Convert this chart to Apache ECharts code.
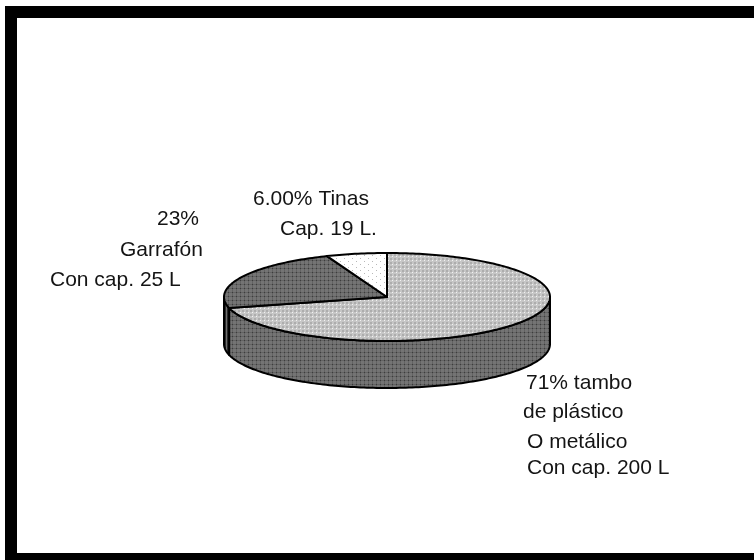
<!DOCTYPE html>
<html>
<head>
<meta charset="utf-8">
<style>html,body{margin:0;padding:0;background:#fff}#c{width:754px;height:560px}</style>
<script src="https://cdn.jsdelivr.net/npm/echarts@6/dist/echarts.min.js"></script>
</head>
<body>
<div id="c"></div>
<script>
// Data, clockwise from the top of the pie, in the order the slices follow each other
var categories = ['Tambo', 'Garrafón', 'Tinas'];
var shares = [71, 23, 6];
var labelTambo = ['71% tambo', 'de plástico', 'O metálico', 'Con cap. 200 L'];
var labelGarrafon = ['23%', 'Garrafón', 'Con cap. 25 L'];
var labelTinas = ['6.00% Tinas', 'Cap. 19 L.'];

function makePattern(size, bg, paint) {
  var cv = document.createElement('canvas');
  cv.width = size[0]; cv.height = size[1];
  var g = cv.getContext('2d');
  g.fillStyle = bg; g.fillRect(0, 0, size[0], size[1]);
  paint(g);
  return { image: cv, repeat: 'repeat' };
}
var lightTop = makePattern([4, 4], '#adadad', function (g) {
  g.fillStyle = '#c6c6c6'; g.fillRect(0, 0, 2, 4); g.fillRect(0, 0, 4, 2);
  g.fillStyle = '#f2f2f2'; g.fillRect(0, 0, 1, 1);
});
var darkFill = makePattern([4, 4], '#747474', function (g) {
  g.fillStyle = '#626262'; g.fillRect(0, 0, 4, 1); g.fillRect(0, 0, 1, 4);
  g.fillStyle = '#3c3c3c'; g.fillRect(0, 0, 1, 1);
});
var darkerSide = makePattern([3, 3], '#2c2c2c', function (g) {
  g.fillStyle = '#707070'; g.fillRect(1, 0, 1, 3);
});
var whiteTop = makePattern([8, 6], '#ffffff', function (g) {
  g.fillStyle = '#b8b8b8'; g.fillRect(0, 0, 1, 1);
  g.fillRect(4, 3, 1, 1);
});

var topFills = [lightTop, darkFill, whiteTop];
var sideFills = [darkFill, darkerSide, darkerSide];

var CX = 387, CY = 297, RX = 163, RY = 44, DEPTH = 47;

function pt(a, dy) { // a = clockwise radians from the top
  return [CX + RX * Math.sin(a), CY - RY * Math.cos(a) + (dy || 0)];
}
function arc(a0, a1, dy) {
  var n = Math.max(2, Math.ceil(Math.abs(a1 - a0) / 0.02)), out = [];
  for (var i = 0; i <= n; i++) out.push(pt(a0 + (a1 - a0) * i / n, dy));
  return out;
}
var total = shares.reduce(function (s, v) { return s + v; }, 0);

function renderItem(params, api) {
  var idx = params.dataIndex, before = 0;
  for (var i = 0; i < idx; i++) before += shares[i];
  var a0 = before / total * 2 * Math.PI;
  var a1 = (before + api.value(0)) / total * 2 * Math.PI;
  var children = [];
  // visible wall: front half of the rim, clockwise from 90deg to 270deg
  var s0 = Math.max(a0, Math.PI / 2), s1 = Math.min(a1, 3 * Math.PI / 2);
  if (s1 > s0) {
    children.push({
      type: 'polygon',
      shape: { points: arc(s0, s1, 0).concat(arc(s1, s0, DEPTH)) },
      style: { fill: sideFills[idx], stroke: '#000', lineWidth: 2, lineJoin: 'round' }
    });
  }
  children.push({
    type: 'polygon',
    shape: { points: [[CX, CY]].concat(arc(a0, a1, 0)) },
    style: { fill: topFills[idx], stroke: '#000', lineWidth: 2, lineJoin: 'round' }
  });
  return { type: 'group', children: children };
}

function textLines(lines, spots, align) {
  return lines.map(function (t, i) {
    return {
      type: 'text', x: spots[i][0], y: spots[i][1],
      style: { text: t, fill: '#141414', textAlign: align, textVerticalAlign: 'middle',
               font: '21px "Liberation Sans", Arial, sans-serif' }
    };
  });
}

var frame = [
  { type: 'rect', shape: { x: 5, y: 6, width: 749, height: 12 }, style: { fill: '#000' } },
  { type: 'rect', shape: { x: 5, y: 6, width: 12, height: 554 }, style: { fill: '#000' } },
  { type: 'rect', shape: { x: 5, y: 553, width: 749, height: 7 }, style: { fill: '#000' } }
];

var chart = echarts.init(document.getElementById('c'), null, { renderer: 'canvas' });
chart.setOption({
  animation: false,
  backgroundColor: '#fff',
  graphic: frame
    .concat(textLines(labelTinas, [[253, 199], [280, 229]], 'left'))
    .concat(textLines(labelGarrafon, [[157, 219], [120, 250], [50, 280]], 'left'))
    .concat(textLines(labelTambo, [[526, 383], [523, 412], [527, 442], [527, 468]], 'left')),
  series: [{
    type: 'custom',
    coordinateSystem: 'none',
    renderItem: renderItem,
    silent: true,
    data: categories.map(function (c, i) { return { name: c, value: [shares[i]] }; })
  }]
});
</script>
</body>
</html>
